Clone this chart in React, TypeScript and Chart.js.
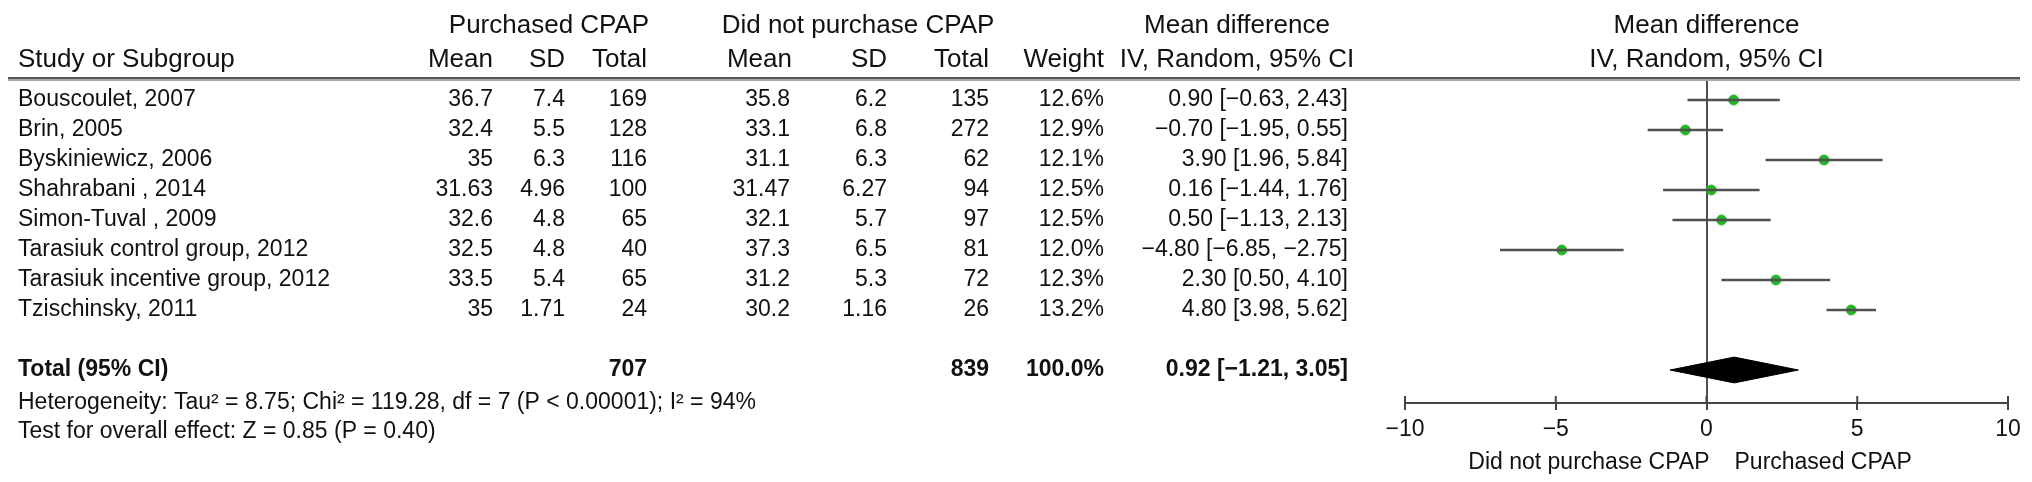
import React, { useEffect, useRef } from "react";
import { Chart, registerables } from "chart.js";

Chart.register(...registerables);

// ---------- data ----------
const studies = [
  "Bouscoulet, 2007",
  "Brin, 2005",
  "Byskiniewicz, 2006",
  "Shahrabani , 2014",
  "Simon-Tuval , 2009",
  "Tarasiuk control group, 2012",
  "Tarasiuk incentive group, 2012",
  "Tzischinsky, 2011",
];
const purchasedMean = [36.7, 32.4, 35, 31.63, 32.6, 32.5, 33.5, 35];
const purchasedSD = [7.4, 5.5, 6.3, 4.96, 4.8, 4.8, 5.4, 1.71];
const purchasedTotal = [169, 128, 116, 100, 65, 40, 65, 24];
const notMean = [35.8, 33.1, 31.1, 31.47, 32.1, 37.3, 31.2, 30.2];
const notSD = [6.2, 6.8, 6.3, 6.27, 5.7, 6.5, 5.3, 1.16];
const notTotal = [135, 272, 62, 94, 97, 81, 72, 26];
const weights = [12.6, 12.9, 12.1, 12.5, 12.5, 12.0, 12.3, 13.2];
const meanDiff = [0.9, -0.7, 3.9, 0.16, 0.5, -4.8, 2.3, 4.8];
const ciLow = [-0.63, -1.95, 1.96, -1.44, -1.13, -6.85, 0.5, 3.98];
const ciHigh = [2.43, 0.55, 5.84, 1.76, 2.13, -2.75, 4.1, 5.62];

const totalLabel = "Total (95% CI)";
const totalPurchased = 707;
const totalNot = 839;
const totalWeight = 100.0;
const totalMD = 0.92;
const totalLow = -1.21;
const totalHigh = 3.05;

const heterogeneityText =
  "Heterogeneity: Tau² = 8.75; Chi² = 119.28, df = 7 (P < 0.00001); I² = 94%";
const overallText = "Test for overall effect: Z = 0.85 (P = 0.40)";

const xTicks = [-10, -5, 0, 5, 10];
const leftFavours = "Did not purchase CPAP";
const rightFavours = "Purchased CPAP";

// ---------- helpers ----------
const FONT = "'Liberation Sans', Arial, Helvetica, sans-serif";
const TEXT = "#111111";
const LINE = "#505050";

const minus = (s: string) => s.replace("-", "\u2212");
const fmt2 = (v: number) => minus(v.toFixed(2));
const ciText = (m: number, lo: number, hi: number) =>
  `${fmt2(m)} [${fmt2(lo)}, ${fmt2(hi)}]`;

const TOTAL_ROW = 9;
const HET_ROW = 10.1;
const TEST_ROW = 11.05;
const LEFT = 18;

export default function App() {
  const ref = useRef<HTMLCanvasElement | null>(null);

  useEffect(() => {
    document.body.style.margin = "0";
    const canvas = ref.current;
    if (!canvas) return;

    const tablePlugin = {
      id: "forestTable",
      afterDraw(chart: any) {
        const ctx = chart.ctx as CanvasRenderingContext2D;
        const xs = chart.scales.x;
        const ys = chart.scales.y;
        const area = chart.chartArea;
        const x0 = xs.getPixelForValue(0);
        ctx.save();

        // header rule
        ctx.fillStyle = "#555555";
        ctx.fillRect(8, area.top - 3, 2012, 2);
        ctx.fillStyle = "#a8a8a8";
        ctx.fillRect(8, area.top - 1, 2012, 2);

        // upward halves of tick marks
        ctx.strokeStyle = "#444";
        ctx.lineWidth = 2;
        for (const v of xTicks) {
          const px = xs.getPixelForValue(v);
          ctx.beginPath();
          ctx.moveTo(px, area.bottom - 7);
          ctx.lineTo(px, area.bottom);
          ctx.stroke();
        }

        ctx.fillStyle = TEXT;
        ctx.textBaseline = "middle";

        // headers
        ctx.font = `26px ${FONT}`;
        ctx.textAlign = "center";
        ctx.fillText("Purchased CPAP", 549, 26);
        ctx.fillText("Did not purchase CPAP", 858, 26);
        ctx.fillText("Mean difference", 1237, 26);
        ctx.fillText("Mean difference", x0, 26);
        ctx.fillText("IV, Random, 95% CI", 1237, 60);
        ctx.fillText("IV, Random, 95% CI", x0, 60);
        ctx.textAlign = "left";
        ctx.fillText("Study or Subgroup", LEFT, 60);
        ctx.textAlign = "right";
        ctx.fillText("Mean", 493, 60);
        ctx.fillText("SD", 565, 60);
        ctx.fillText("Total", 647, 60);
        ctx.fillText("Mean", 792, 60);
        ctx.fillText("SD", 887, 60);
        ctx.fillText("Total", 989, 60);
        ctx.fillText("Weight", 1104, 60);

        // study rows
        ctx.font = `23px ${FONT}`;
        studies.forEach((name, i) => {
          const y = ys.getPixelForValue(i);
          ctx.textAlign = "left";
          ctx.fillText(name, LEFT, y);
          ctx.textAlign = "right";
          ctx.fillText(String(purchasedMean[i]), 493, y);
          ctx.fillText(String(purchasedSD[i]), 565, y);
          ctx.fillText(String(purchasedTotal[i]), 647, y);
          ctx.fillText(String(notMean[i]), 790, y);
          ctx.fillText(String(notSD[i]), 887, y);
          ctx.fillText(String(notTotal[i]), 989, y);
          ctx.fillText(weights[i].toFixed(1) + "%", 1104, y);
          ctx.fillText(ciText(meanDiff[i], ciLow[i], ciHigh[i]), 1348, y);
        });

        // total row
        const yt = ys.getPixelForValue(TOTAL_ROW);
        ctx.font = `bold 23px ${FONT}`;
        ctx.textAlign = "left";
        ctx.fillText(totalLabel, LEFT, yt);
        ctx.textAlign = "right";
        ctx.fillText(String(totalPurchased), 647, yt);
        ctx.fillText(String(totalNot), 989, yt);
        ctx.fillText(totalWeight.toFixed(1) + "%", 1104, yt);
        ctx.fillText(ciText(totalMD, totalLow, totalHigh), 1348, yt);

        // footnotes
        ctx.font = `23px ${FONT}`;
        ctx.textAlign = "left";
        ctx.fillText(heterogeneityText, LEFT, ys.getPixelForValue(HET_ROW));
        ctx.fillText(overallText, LEFT, ys.getPixelForValue(TEST_ROW));

        // favours labels
        ctx.textAlign = "right";
        ctx.fillText(leftFavours, x0 + 3, 463);
        ctx.textAlign = "left";
        ctx.fillText(rightFavours, x0 + 28, 463);

        ctx.restore();
      },
    };

    const ciDatasets = studies.map((_, i) => ({
      type: "line" as const,
      data: [
        { x: ciLow[i], y: i },
        { x: ciHigh[i], y: i },
      ],
      borderColor: LINE,
      borderWidth: 2.5,
      pointRadius: 0,
      fill: false,
    }));

    const pointDataset = {
      type: "line" as const,
      data: studies.map((_, i) => ({ x: meanDiff[i], y: i })),
      showLine: false,
      pointStyle: "circle" as const,
      pointRadius: 5,
      pointBackgroundColor: "#26b526",
      pointBorderColor: "#2fb82f",
      pointBorderWidth: 1,
      borderWidth: 0,
    };

    const dh = 0.43;
    const diamondDataset = {
      type: "line" as const,
      data: [
        { x: totalLow, y: TOTAL_ROW },
        { x: totalMD, y: TOTAL_ROW - dh },
        { x: totalHigh, y: TOTAL_ROW },
        { x: totalMD, y: TOTAL_ROW + dh },
        { x: totalLow, y: TOTAL_ROW },
      ],
      borderColor: "#000",
      backgroundColor: "#000",
      borderWidth: 1,
      pointRadius: 0,
      fill: "shape" as any,
      tension: 0,
    };

    const chart = new Chart(canvas, {
      type: "line",
      data: { datasets: [...ciDatasets, pointDataset, diamondDataset] as any },
      options: {
        animation: false,
        responsive: false,
        maintainAspectRatio: false,
        events: [],
        layout: { padding: { left: 1405, right: 24, top: 80, bottom: 0 } },
        plugins: {
          legend: { display: false },
          tooltip: { enabled: false },
          title: { display: false },
        },
        scales: {
          x: {
            type: "linear",
            min: -10,
            max: 10,
            position: "bottom",
            afterBuildTicks: (s: any) => {
              s.ticks = xTicks.map((v) => ({ value: v }));
            },
            afterFit: (s: any) => {
              s.height = 482 - 403;
            },
            ticks: {
              font: { family: FONT, size: 23 },
              color: TEXT,
              padding: 6,
              maxRotation: 0,
              autoSkip: false,
              callback: (v: any) => (v < 0 ? "\u2212" + Math.abs(v) : String(v)),
            },
            grid: {
              drawOnChartArea: true,
              color: (c: any) => (c.tick && c.tick.value === 0 ? LINE : "rgba(0,0,0,0)"),
              lineWidth: 2,
              tickLength: 7,
              tickColor: "#444",
              tickWidth: 2,
            },
            border: { display: true, color: "#444", width: 2 },
          },
          y: {
            type: "linear",
            display: false,
            reverse: true,
            min: -0.667,
            max: 10.1,
          },
        },
      },
      plugins: [tablePlugin],
    });

    return () => chart.destroy();
  }, []);

  return (
    <div style={{ width: 2032, height: 482, background: "#fff" }}>
      <canvas ref={ref} width={2032} height={482} style={{ display: "block" }} />
    </div>
  );
}
